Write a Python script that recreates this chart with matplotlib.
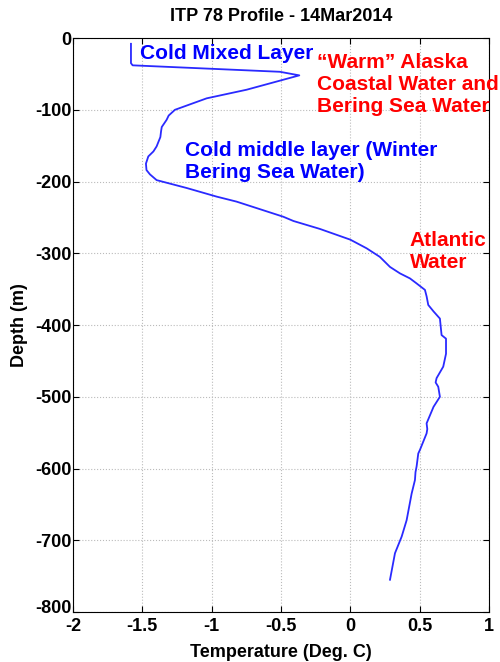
import matplotlib
matplotlib.use('Agg')
import matplotlib.pyplot as plt
import matplotlib.transforms as mtransforms

plt.rcParams['font.family'] = ['Liberation Sans', 'DejaVu Sans']
plt.rcParams['axes.unicode_minus'] = False

# temperature (deg C) and depth (m)
temp = [-1.582, -1.582, -1.57, -0.508, -0.368, -0.748, -1.036, -1.265, -1.31, -1.325,
        -1.36, -1.365, -1.37, -1.397, -1.42, -1.457, -1.474, -1.47, -1.445, -1.397,
        -1.18, -0.964, -0.82, -0.676, -0.484, -0.41, -0.22, 0.0, 0.117, 0.213,
        0.286, 0.358, 0.43, 0.478, 0.538, 0.55, 0.562, 0.6, 0.646, 0.658,
        0.69, 0.69, 0.67, 0.622, 0.615, 0.634, 0.646, 0.6, 0.55, 0.555,
        0.55, 0.502, 0.49, 0.478, 0.47, 0.466, 0.442, 0.406, 0.37, 0.322, 0.286]
depth = [-8, -35, -38, -47, -52, -72, -84, -100, -108, -114,
         -124, -130, -138, -151, -158, -165, -175, -184, -190, -198,
         -209, -221, -228, -237, -249, -255, -266, -281, -293, -305,
         -319, -328, -335, -342, -351, -360, -372, -381, -391, -414,
         -419, -440, -458, -474, -480, -486, -500, -514, -537, -545,
         -551, -574, -579, -597, -605, -616, -635, -672, -695, -718, -755]

xticks = [-2, -1.5, -1, -0.5, 0, 0.5, 1]
xticklabels = ['-2', '-1.5', '-1', '-0.5', '0', '0.5', '1']
yticks = [0, -100, -200, -300, -400, -500, -600, -700, -800]

fig = plt.figure(figsize=(5, 6.62), dpi=100)
ax = fig.add_axes([0.146, 0.0755, 0.832, 0.867])

ax.plot(temp, depth, color='#2a2aff', lw=1.3)

ax.set_xlim(-2, 1)
ax.set_ylim(-800, 0)
ax.set_xticks(xticks)
ax.set_xticklabels(xticklabels)
ax.set_yticks(yticks)
ax.tick_params(direction='in', top=True, right=True, length=4, labelsize=13)
ax.tick_params(axis='x', pad=4)
ax.tick_params(axis='y', pad=1)
for lab in ax.get_xticklabels() + ax.get_yticklabels():
    lab.set_fontweight('bold')
# lift the bottom depth label a little so it clears the -2 label
low = ax.get_yticklabels()[-1]
low.set_transform(low.get_transform() + mtransforms.ScaledTranslation(0, 4 / 72, fig.dpi_scale_trans))
ax.grid(True, linestyle=':', color='#bbbbbb', lw=0.8)

ax.set_title('ITP 78 Profile - 14Mar2014', fontsize=13, fontweight='bold', pad=12)
ax.set_xlabel('Temperature (Deg. C)', fontsize=13, fontweight='bold', labelpad=7)
ax.set_ylabel('Depth (m)', fontsize=13, fontweight='bold', labelpad=5)

ax.text(-1.52, -21, 'Cold Mixed Layer', color='blue', fontsize=15, fontweight='bold', va='center')
ax.text(-0.24, -65, '\u201cWarm\u201d Alaska\nCoastal Water and\nBering Sea Water',
        color='red', fontsize=15, fontweight='bold', va='center', linespacing=1.2)
ax.text(-1.19, -172, 'Cold middle layer (Winter\nBering Sea Water)', color='blue',
        fontsize=15, fontweight='bold', va='center', linespacing=1.2)
ax.text(0.43, -297, 'Atlantic\nWater', color='red', fontsize=15, fontweight='bold',
        va='center', linespacing=1.2)

fig.savefig('out.png', dpi=100)
